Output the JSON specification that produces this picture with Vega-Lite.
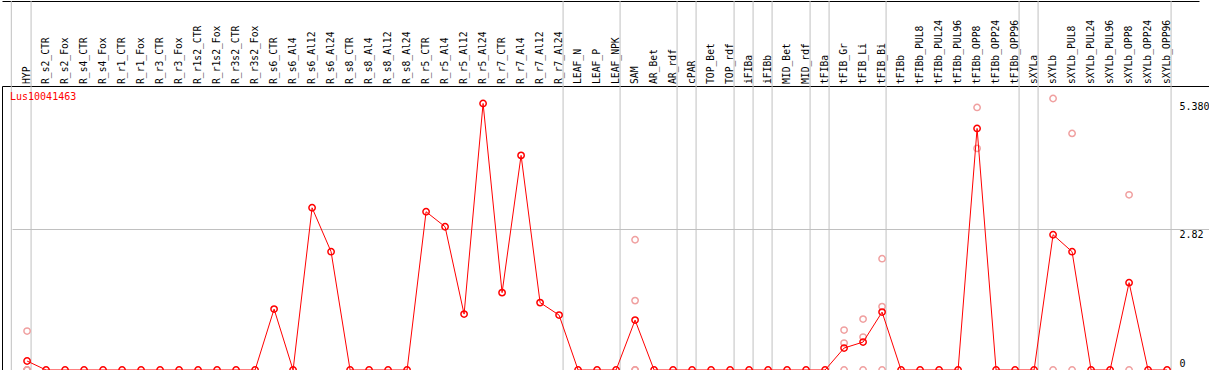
{
  "$schema": "https://vega.github.io/schema/vega-lite/v6.json",
  "autosize": {"type": "pad"},
  "padding": {"left": 1, "top": 0, "right": 0, "bottom": 0},
  "bounds": "flush",
  "spacing": 0,
  "config": {"view": {"stroke": null}, "font": "DejaVu Sans Mono"},
  "datasets": {
    "cols": [
      {"name": "HYP", "v": 0.18},
      {"name": "R_s2_CTR", "v": 0},
      {"name": "R_s2_Fox", "v": 0},
      {"name": "R_s4_CTR", "v": 0},
      {"name": "R_s4_Fox", "v": 0},
      {"name": "R_r1_CTR", "v": 0},
      {"name": "R_r1_Fox", "v": 0},
      {"name": "R_r3_CTR", "v": 0},
      {"name": "R_r3_Fox", "v": 0},
      {"name": "R_r1s2_CTR", "v": 0},
      {"name": "R_r1s2_Fox", "v": 0},
      {"name": "R_r3s2_CTR", "v": 0},
      {"name": "R_r3s2_Fox", "v": 0},
      {"name": "R_s6_CTR", "v": 1.22},
      {"name": "R_s6_Al4", "v": 0},
      {"name": "R_s6_Al12", "v": 3.25},
      {"name": "R_s6_Al24", "v": 2.37},
      {"name": "R_s8_CTR", "v": 0},
      {"name": "R_s8_Al4", "v": 0},
      {"name": "R_s8_Al12", "v": 0},
      {"name": "R_s8_Al24", "v": 0},
      {"name": "R_r5_CTR", "v": 3.17},
      {"name": "R_r5_Al4", "v": 2.87},
      {"name": "R_r5_Al12", "v": 1.12},
      {"name": "R_r5_Al24", "v": 5.34},
      {"name": "R_r7_CTR", "v": 1.55},
      {"name": "R_r7_Al4", "v": 4.30},
      {"name": "R_r7_Al12", "v": 1.35},
      {"name": "R_r7_Al24", "v": 1.10},
      {"name": "LEAF_N", "v": 0},
      {"name": "LEAF_P", "v": 0},
      {"name": "LEAF_NPK", "v": 0},
      {"name": "SAM", "v": 1.00},
      {"name": "AR_Bet", "v": 0},
      {"name": "AR_rdf", "v": 0},
      {"name": "cPAR", "v": 0},
      {"name": "TOP_Bet", "v": 0},
      {"name": "TOP_rdf", "v": 0},
      {"name": "iFIBa", "v": 0},
      {"name": "iFIBb", "v": 0},
      {"name": "MID_Bet", "v": 0},
      {"name": "MID_rdf", "v": 0},
      {"name": "tFIBa", "v": 0},
      {"name": "tFIB_Gr", "v": 0.44},
      {"name": "tFIB_Li", "v": 0.56},
      {"name": "tFIB_Bi", "v": 1.16},
      {"name": "tFIBb", "v": 0},
      {"name": "tFIBb_PUL8", "v": 0},
      {"name": "tFIBb_PUL24", "v": 0},
      {"name": "tFIBb_PUL96", "v": 0},
      {"name": "tFIBb_OPP8", "v": 4.84},
      {"name": "tFIBb_OPP24", "v": 0},
      {"name": "tFIBb_OPP96", "v": 0},
      {"name": "sXYLa", "v": 0},
      {"name": "sXYLb", "v": 2.71},
      {"name": "sXYLb_PUL8", "v": 2.37},
      {"name": "sXYLb_PUL24", "v": 0},
      {"name": "sXYLb_PUL96", "v": 0},
      {"name": "sXYLb_OPP8", "v": 1.75},
      {"name": "sXYLb_OPP24", "v": 0},
      {"name": "sXYLb_OPP96", "v": 0}
    ],
    "reps": [
      {"name": "HYP", "v": 0.78}, {"name": "HYP", "v": 0}, {"name": "HYP", "v": 0}, {"name": "HYP", "v": 0},
      {"name": "SAM", "v": 2.61}, {"name": "SAM", "v": 1.39}, {"name": "SAM", "v": 0}, {"name": "SAM", "v": 0},
      {"name": "tFIB_Gr", "v": 0.80}, {"name": "tFIB_Gr", "v": 0.54}, {"name": "tFIB_Gr", "v": 0},
      {"name": "tFIB_Li", "v": 1.02}, {"name": "tFIB_Li", "v": 0.66}, {"name": "tFIB_Li", "v": 0},
      {"name": "tFIB_Bi", "v": 2.23}, {"name": "tFIB_Bi", "v": 1.27}, {"name": "tFIB_Bi", "v": 0},
      {"name": "tFIBb_OPP8", "v": 5.26}, {"name": "tFIBb_OPP8", "v": 4.44},
      {"name": "sXYLb", "v": 5.44}, {"name": "sXYLb", "v": 0},
      {"name": "sXYLb_PUL8", "v": 4.74}, {"name": "sXYLb_PUL8", "v": 0},
      {"name": "sXYLb_OPP8", "v": 3.51}, {"name": "sXYLb_OPP8", "v": 0}
    ],
    "seps": [
      {"after": "HYP"}, {"after": "R_r7_Al24"}, {"after": "LEAF_NPK"}, {"after": "AR_rdf"},
      {"after": "cPAR"}, {"after": "TOP_rdf"}, {"after": "iFIBa"}, {"after": "iFIBb"},
      {"after": "MID_rdf"}, {"after": "tFIBa"}, {"after": "tFIB_Bi"}, {"after": "tFIBb_OPP96"},
      {"after": "sXYLa"}, {"after": "sXYLb_OPP96"}
    ],
    "first": [{"before": "HYP"}]
  },
  "vconcat": [
    {
      "width": 1207,
      "height": 85,
      "layer": [
        {
          "data": {"name": "first"},
          "mark": {"type": "rule", "color": "#c0c0c0", "strokeWidth": 1},
          "encoding": {
            "x": {"field": "before", "type": "nominal", "bandPosition": -0.33,
              "scale": {"type": "band", "paddingInner": 0, "paddingOuter": 1, "align": 0.41, "range": [0, 1197],
                "domain": ["HYP","R_s2_CTR","R_s2_Fox","R_s4_CTR","R_s4_Fox","R_r1_CTR","R_r1_Fox","R_r3_CTR","R_r3_Fox","R_r1s2_CTR","R_r1s2_Fox","R_r3s2_CTR","R_r3s2_Fox","R_s6_CTR","R_s6_Al4","R_s6_Al12","R_s6_Al24","R_s8_CTR","R_s8_Al4","R_s8_Al12","R_s8_Al24","R_r5_CTR","R_r5_Al4","R_r5_Al12","R_r5_Al24","R_r7_CTR","R_r7_Al4","R_r7_Al12","R_r7_Al24","LEAF_N","LEAF_P","LEAF_NPK","SAM","AR_Bet","AR_rdf","cPAR","TOP_Bet","TOP_rdf","iFIBa","iFIBb","MID_Bet","MID_rdf","tFIBa","tFIB_Gr","tFIB_Li","tFIB_Bi","tFIBb","tFIBb_PUL8","tFIBb_PUL24","tFIBb_PUL96","tFIBb_OPP8","tFIBb_OPP24","tFIBb_OPP96","sXYLa","sXYLb","sXYLb_PUL8","sXYLb_PUL24","sXYLb_PUL96","sXYLb_OPP8","sXYLb_OPP24","sXYLb_OPP96"]}}
          }
        },
        {
          "data": {"name": "seps"},
          "mark": {"type": "rule", "color": "#c0c0c0", "strokeWidth": 1},
          "encoding": {"x": {"field": "after", "type": "nominal", "bandPosition": 0.71}}
        },
        {
          "data": {"name": "cols"},
          "mark": {"type": "text", "angle": 270, "align": "left", "baseline": "middle", "dx": 2, "fontSize": 9.7, "font": "DejaVu Sans Mono", "color": "black"},
          "encoding": {
            "x": {"field": "name", "type": "nominal",
              "axis": {"orient": "top", "labels": false, "ticks": false, "grid": false, "domain": true, "domainColor": "black", "domainWidth": 1, "title": null}},
            "y": {"datum": 0, "type": "quantitative", "scale": {"domain": [0, 1]},
              "axis": {"orient": "right", "labels": false, "ticks": false, "grid": false, "domain": true, "domainColor": "black", "domainWidth": 1, "title": null}},
            "text": {"field": "name"}
          }
        }
      ]
    },
    {
      "width": 1207,
      "height": 284,
      "view": {"stroke": "black", "strokeWidth": 1},
      "title": {"text": "Lus10041463", "anchor": "start", "frame": "group", "color": "red", "font": "DejaVu Sans Mono", "fontSize": 10, "fontWeight": "normal", "baseline": "top", "offset": -16, "dx": 8},
      "layer": [
        {
          "data": {"name": "first"},
          "mark": {"type": "rule", "color": "#c0c0c0", "strokeWidth": 1},
          "encoding": {
            "x": {"field": "before", "type": "nominal", "bandPosition": -0.33, "axis": null,
              "scale": {"type": "band", "paddingInner": 0, "paddingOuter": 1, "align": 0.41, "range": [0, 1197],
                "domain": ["HYP","R_s2_CTR","R_s2_Fox","R_s4_CTR","R_s4_Fox","R_r1_CTR","R_r1_Fox","R_r3_CTR","R_r3_Fox","R_r1s2_CTR","R_r1s2_Fox","R_r3s2_CTR","R_r3s2_Fox","R_s6_CTR","R_s6_Al4","R_s6_Al12","R_s6_Al24","R_s8_CTR","R_s8_Al4","R_s8_Al12","R_s8_Al24","R_r5_CTR","R_r5_Al4","R_r5_Al12","R_r5_Al24","R_r7_CTR","R_r7_Al4","R_r7_Al12","R_r7_Al24","LEAF_N","LEAF_P","LEAF_NPK","SAM","AR_Bet","AR_rdf","cPAR","TOP_Bet","TOP_rdf","iFIBa","iFIBb","MID_Bet","MID_rdf","tFIBa","tFIB_Gr","tFIB_Li","tFIB_Bi","tFIBb","tFIBb_PUL8","tFIBb_PUL24","tFIBb_PUL96","tFIBb_OPP8","tFIBb_OPP24","tFIBb_OPP96","sXYLa","sXYLb","sXYLb_PUL8","sXYLb_PUL24","sXYLb_PUL96","sXYLb_OPP8","sXYLb_OPP24","sXYLb_OPP96"]}}
          }
        },
        {
          "data": {"name": "seps"},
          "mark": {"type": "rule", "color": "#c0c0c0", "strokeWidth": 1},
          "encoding": {"x": {"field": "after", "type": "nominal", "bandPosition": 0.71, "axis": null}}
        },
        {
          "data": {"name": "reps"},
          "mark": {"type": "point", "shape": "circle", "filled": false, "size": 40, "strokeWidth": 1.5, "color": "#f0a0a0", "opacity": 1},
          "encoding": {
            "x": {"field": "name", "type": "nominal", "axis": null},
            "y": {"field": "v", "type": "quantitative",
              "scale": {"domain": [0, 5.69], "nice": false, "zero": true},
              "axis": {"orient": "right", "values": [0, 2.82, 5.38], "title": null, "domain": false, "ticks": false, "tickSize": 0,
                "labelAlign": "left", "labelPadding": -30, "labelFlush": false, "labelOverlap": false,
                "labelBaseline": {"condition": {"test": "datum.value == 0", "value": "bottom"}, "value": "top"},
                "labelOffset": {"condition": {"test": "datum.value == 0", "value": -2}, "value": 0},
                "labelFont": "DejaVu Sans Mono", "labelFontSize": 10, "labelColor": "black",
                "labelExpr": "datum.value == 0 ? '0' : datum.value < 3 ? format(datum.value, '.2f') : format(datum.value, '.3f')",
                "grid": true, "gridColor": "#c0c0c0", "gridWidth": 1,
                "gridOpacity": {"condition": {"test": "datum.value == 2.82", "value": 1}, "value": 0}}}
          }
        },
        {
          "data": {"name": "cols"},
          "mark": {"type": "line", "color": "#ff0000", "strokeWidth": 1},
          "encoding": {
            "x": {"field": "name", "type": "nominal", "sort": null, "axis": null},
            "y": {"field": "v", "type": "quantitative"}
          }
        },
        {
          "data": {"name": "cols"},
          "mark": {"type": "point", "shape": "circle", "filled": false, "size": 40, "strokeWidth": 1.5, "color": "#ff0000", "opacity": 1},
          "encoding": {
            "x": {"field": "name", "type": "nominal", "axis": null},
            "y": {"field": "v", "type": "quantitative"}
          }
        }
      ]
    }
  ]
}
